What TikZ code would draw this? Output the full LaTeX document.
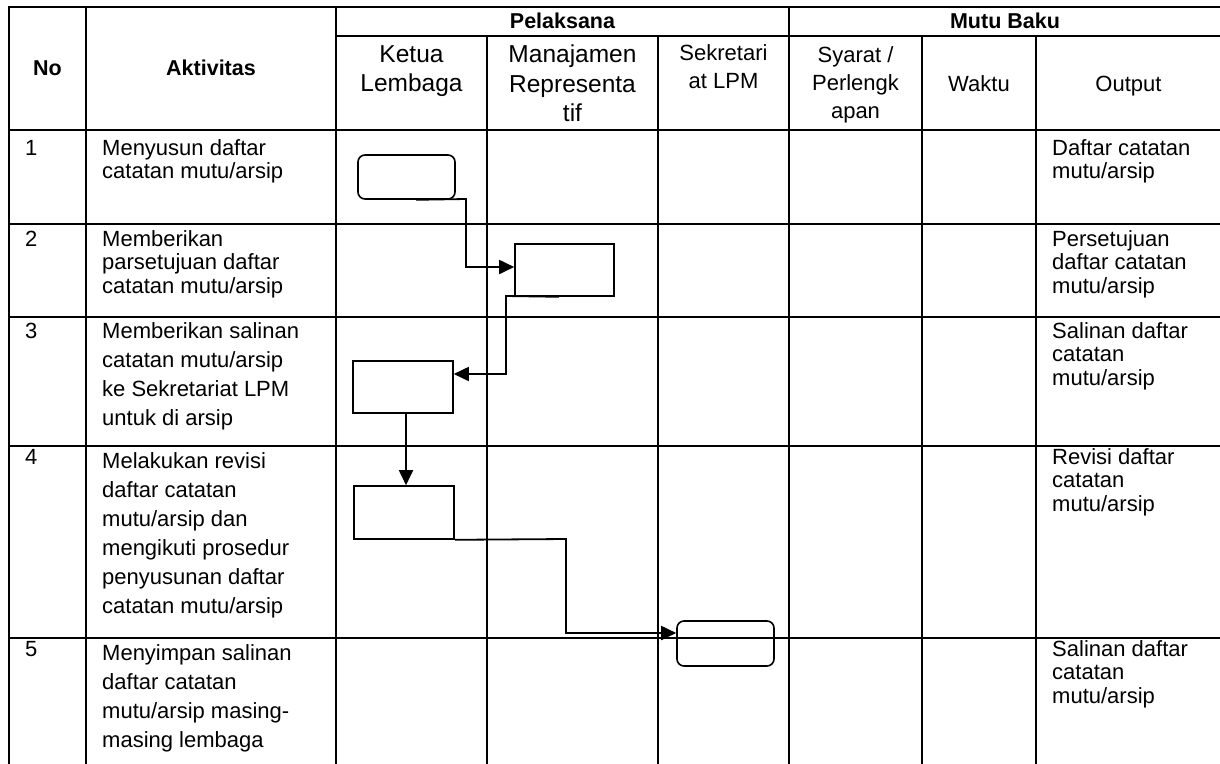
\documentclass[tikz,border=0pt]{standalone}
\usepackage{fontspec}
\setmainfont{Liberation Sans}
\usetikzlibrary{arrows.meta}
\newcommand\MLinesL[1]{\vtop{\halign{##\hfil\cr#1\crcr}}}
\newcommand\MLinesC[1]{\vtop{\halign{\hfil##\hfil\cr#1\crcr}}}
\begin{document}
\begin{tikzpicture}[x=1pt,y=-1pt,
  tbl/.style={line width=2pt,line cap=rect},
  boxa/.style={draw,line width=1.6pt,inner sep=0pt},
  rboxa/.style={boxa,rounded corners=7pt},
  conn/.style={line width=1.8pt,-{Triangle[length=15pt,width=14pt]}},
  bodys/.style={inner sep=0pt,anchor=base west,font=\fontsize{22}{23.5}\selectfont},
  bodyl/.style={inner sep=0pt,anchor=base west,font=\fontsize{22}{29}\selectfont},
  hbold/.style={inner sep=0pt,anchor=base,font=\fontsize{21.5}{24}\selectfont\bfseries},
  hbig/.style={inner sep=0pt,anchor=base,font=\fontsize{24.5}{29.5}\selectfont},
  hmid/.style={inner sep=0pt,anchor=base,font=\fontsize{22}{28.2}\selectfont}
]
\useasboundingbox (0,0) rectangle (1220,763);
% table lines
\draw[tbl] (9,7) -- (1221,7);
\draw[tbl] (336,36) -- (1221,36);
\foreach \yy in {130,224,317,446,638} \draw[tbl] (9,\yy) -- (1221,\yy);
\foreach \xx in {9,86,336,789} \draw[tbl] (\xx,7) -- (\xx,764);
\foreach \xx in {487,658,922,1036} \draw[tbl] (\xx,36) -- (\xx,764);
% header texts
\node[hbold] (hno) at (47.5,75.8) {No};
\node[hbold] (hakt) at (211,75.8) {Aktivitas};
\node[hbold] (hpel) at (562.5,28.8) {Pelaksana};
\node[hbold] (hmb) at (1005,28.8) {Mutu Baku};
\node[hbig] (hket) at (411.5,62) {\MLinesC{Ketua\cr Lembaga}};
\node[hbig] (hman) at (572.5,62.5) {\MLinesC{Manajamen\cr Representa\cr tif}};
\node[hmid] (hsek) at (723.5,60) {\MLinesC{Sekretari\cr at LPM}};
\node[hmid] (hsya) at (855.5,62) {\MLinesC{Syarat /\cr Perlengk\cr apan}};
\node[hmid] (hwak) at (979,91) {Waktu};
\node[hmid] (hout) at (1128.5,91) {Output};
% numbers
\node[bodys] (n1) at (25,155) {1};
\node[bodys] (n2) at (25,246) {2};
\node[bodys] (n3) at (25,338) {3};
\node[bodys] (n4) at (25,464) {4};
\node[bodys] (n5) at (25,656) {5};
% activities
\node[bodys] (a1) at (102,155) {\MLinesL{Menyusun daftar\cr catatan mutu/arsip}};
\node[bodys] (a2) at (102,246) {\MLinesL{Memberikan\cr parsetujuan daftar\cr catatan mutu/arsip}};
\node[bodyl] (a3) at (102,338) {\MLinesL{Memberikan salinan\cr catatan mutu/arsip\cr ke Sekretariat LPM\cr untuk di arsip}};
\node[bodyl] (a4) at (102,468) {\MLinesL{Melakukan revisi\cr daftar catatan\cr mutu/arsip dan\cr mengikuti prosedur\cr penyusunan daftar\cr catatan mutu/arsip}};
\node[bodyl] (a5) at (102,660) {\MLinesL{Menyimpan salinan\cr daftar catatan\cr mutu/arsip masing-\cr masing lembaga}};
% outputs
\node[bodys] (o1) at (1052,155) {\MLinesL{Daftar catatan\cr mutu/arsip}};
\node[bodys] (o2) at (1052,246) {\MLinesL{Persetujuan\cr daftar catatan\cr mutu/arsip}};
\node[bodys] (o3) at (1052,338) {\MLinesL{Salinan daftar\cr catatan\cr mutu/arsip}};
\node[bodys] (o4) at (1052,464) {\MLinesL{Revisi daftar\cr catatan\cr mutu/arsip}};
\node[bodys] (o5) at (1052,656) {\MLinesL{Salinan daftar\cr catatan\cr mutu/arsip}};
% flow boxes
\node[rboxa,minimum width=97pt,minimum height=44pt] (b1) at (406.5,177) {};
\node[boxa,minimum width=99pt,minimum height=52pt] (b2) at (564.5,270) {};
\node[boxa,minimum width=100pt,minimum height=52pt] (b3) at (403,387) {};
\node[boxa,minimum width=100pt,minimum height=53pt] (b4) at (404,512.5) {};
\node[rboxa,minimum width=97pt,minimum height=45pt] (b5) at (725.5,643.5) {};
% connectors
\coordinate (k1) at (466,199);
\coordinate (k2) at (506,296);
\coordinate (k4) at (566,539);
\draw[conn] ([xshift=9.5pt]b1.south) -- (k1) |- ([yshift=3pt]b2.west);
\draw[conn] ([xshift=-5.5pt]b2.south) -- (k2) |- ([yshift=13pt]b3.east);
\draw[conn] ([xshift=3pt]b3.south) -- ([xshift=2pt]b4.north);
\draw[conn] (b4.south east) -- (k4) |- ([yshift=10.5pt]b5.west);
\end{tikzpicture}
\end{document}
